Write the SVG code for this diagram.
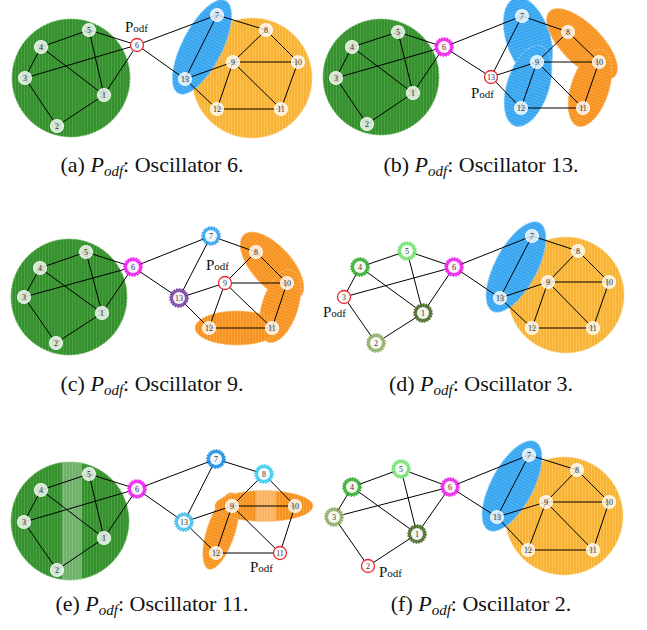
<svg xmlns="http://www.w3.org/2000/svg" width="647" height="630" viewBox="0 0 647 630">
<defs>
<style>
.bg{fill:#fff}
.edges line{stroke:#000;stroke-width:1}
.nd circle.b{fill:#fff;fill-opacity:.78;stroke:#fff;stroke-opacity:.85;stroke-width:1.1}
.nd circle.od{fill:#fff;stroke:#e8282f;stroke-width:1.3}
.nd circle.in{fill:#fff;fill-opacity:.92;stroke:none}
.nd circle.ring{stroke-width:1.6;stroke-dasharray:1.6 1.2;fill-opacity:.9}
.nd text{font-family:"Liberation Serif","DejaVu Serif",serif;font-size:8px;fill:#333;text-anchor:middle}
.podf{font-family:"Liberation Serif","DejaVu Serif",serif;font-size:15px;fill:#111}
.cap{font-family:"Liberation Serif","DejaVu Serif",serif;font-size:22px;fill:#111;text-anchor:middle}
.reg{stroke-width:1;stroke-dasharray:2 1.5}
.gr{fill:url(#pG);stroke:#6cbb62}
.yo{fill:url(#pY);stroke:#fdd689}
.do{fill:url(#pO);stroke:#fbbb70}
.bl{fill:url(#pB);stroke:#8fd0f8}
.mag{fill:#f022f0;stroke:#f022f0}
.blu{fill:#36a3ef;stroke:#36a3ef}
.blu2{fill:#1e8fe6;stroke:#1e8fe6}
.pur{fill:#7a45a6;stroke:#7a45a6}
.g1{fill:#38ad34;stroke:#38ad34}
.g2{fill:#77e372;stroke:#77e372}
.o1{fill:#4d6c2b;stroke:#4d6c2b}
.o2{fill:#90ad67;stroke:#90ad67}
.cy{fill:#3ccdf0;stroke:#3ccdf0}
.cy2{fill:#4cbde6;stroke:#4cbde6}
</style>
<pattern id="pG" width="3" height="10" patternUnits="userSpaceOnUse"><rect width="3" height="10" fill="#348f2c"/><rect width="0.8" height="10" fill="#4fa648"/></pattern>
<pattern id="pY" width="3" height="10" patternUnits="userSpaceOnUse"><rect width="3" height="10" fill="#f8b234"/><rect width="0.8" height="10" fill="#fbc55e"/></pattern>
<pattern id="pO" width="3" height="10" patternUnits="userSpaceOnUse"><rect width="3" height="10" fill="#f7931e"/><rect width="0.8" height="10" fill="#f9a84c"/></pattern>
<pattern id="pB" width="3" height="10" patternUnits="userSpaceOnUse"><rect width="3" height="10" fill="#37a5f0"/><rect width="0.8" height="10" fill="#5cb8f5"/></pattern>
<clipPath id="clipE"><circle cx="70" cy="521" r="59"/></clipPath>
<clipPath id="clipEo"><ellipse cx="264" cy="506" rx="49" ry="15.5"/></clipPath>
</defs>
<rect class="bg" width="647" height="630"/>

<!-- Panel (a) -->
<g id="panel-a">
<g id="a-regions">
<circle class="reg gr" cx="71" cy="78" r="59"/>
<circle class="reg yo" cx="252" cy="78" r="60"/>
<ellipse class="reg bl" cx="202" cy="47" rx="52" ry="20" transform="rotate(-63 202 47)"/>
</g>
<g id="a-connectors" class="edges">
<line x1="104" y1="95" x2="57" y2="126"/><line x1="104" y1="95" x2="41" y2="47"/><line x1="104" y1="95" x2="89" y2="30"/><line x1="104" y1="95" x2="137" y2="45"/>
<line x1="57" y1="126" x2="25" y2="78"/><line x1="25" y1="78" x2="41" y2="47"/><line x1="25" y1="78" x2="137" y2="45"/><line x1="41" y1="47" x2="89" y2="30"/>
<line x1="89" y1="30" x2="137" y2="45"/><line x1="137" y1="45" x2="217" y2="15"/><line x1="137" y1="45" x2="185" y2="79"/><line x1="217" y1="15" x2="266" y2="30"/>
<line x1="217" y1="15" x2="185" y2="79"/><line x1="266" y1="30" x2="233" y2="62"/><line x1="266" y1="30" x2="298" y2="62"/><line x1="233" y1="62" x2="298" y2="62"/>
<line x1="233" y1="62" x2="281" y2="109"/><line x1="233" y1="62" x2="217" y2="109"/><line x1="233" y1="62" x2="185" y2="79"/><line x1="298" y1="62" x2="281" y2="109"/>
<line x1="281" y1="109" x2="217" y2="109"/><line x1="217" y1="109" x2="185" y2="79"/>
</g>
<g id="a1" class="nd"><circle class="b" cx="104" cy="95" r="6.5"/><text x="104" y="97.8">1</text></g>
<g id="a2" class="nd"><circle class="b" cx="57" cy="126" r="6.5"/><text x="57" y="128.8">2</text></g>
<g id="a3" class="nd"><circle class="b" cx="25" cy="78" r="6.5"/><text x="25" y="80.8">3</text></g>
<g id="a4" class="nd"><circle class="b" cx="41" cy="47" r="6.5"/><text x="41" y="49.8">4</text></g>
<g id="a5" class="nd"><circle class="b" cx="89" cy="30" r="6.5"/><text x="89" y="32.8">5</text></g>
<g id="a6" class="nd"><circle class="od" cx="137" cy="45" r="6.5"/><text x="137" y="47.8">6</text></g>
<g id="a7" class="nd"><circle class="b" cx="217" cy="15" r="6.5"/><text x="217" y="17.8">7</text></g>
<g id="a8" class="nd"><circle class="b" cx="266" cy="30" r="6.5"/><text x="266" y="32.8">8</text></g>
<g id="a9" class="nd"><circle class="b" cx="233" cy="62" r="6.5"/><text x="233" y="64.8">9</text></g>
<g id="a10" class="nd"><circle class="b" cx="298" cy="62" r="6.5"/><text x="298" y="64.8">10</text></g>
<g id="a11" class="nd"><circle class="b" cx="281" cy="109" r="6.5"/><text x="281" y="111.8">11</text></g>
<g id="a12" class="nd"><circle class="b" cx="217" cy="109" r="6.5"/><text x="217" y="111.8">12</text></g>
<g id="a13" class="nd"><circle class="b" cx="185" cy="79" r="6.5"/><text x="185" y="81.8">13</text></g>
<text class="podf" x="125" y="32">P<tspan font-size="11">odf</tspan></text>
<text class="cap" x="152" y="172">(a) <tspan font-style="italic">P</tspan><tspan font-style="italic" font-size="15" dy="4">odf</tspan><tspan dy="-4">: Oscillator 6.</tspan></text>
</g>

<!-- Panel (b) -->
<g id="panel-b">
<g id="b-regions">
<circle class="reg gr" cx="381" cy="77" r="58"/>
<ellipse class="reg bl" cx="528" cy="38" rx="42" ry="22" transform="rotate(72 528 38)"/>
<ellipse class="reg bl" cx="528" cy="86" rx="42" ry="21" transform="rotate(108 528 86)"/>
<ellipse class="reg do" cx="582" cy="44" rx="46" ry="20" transform="rotate(45 582 44)"/>
<ellipse class="reg do" cx="590" cy="88" rx="40" ry="19" transform="rotate(108 590 88)"/>
</g>
<g id="b-connectors" class="edges">
<line x1="413" y1="93" x2="367" y2="124"/><line x1="413" y1="93" x2="352" y2="47"/><line x1="413" y1="93" x2="398" y2="32"/><line x1="413" y1="93" x2="444" y2="47"/>
<line x1="367" y1="124" x2="336" y2="78"/><line x1="336" y1="78" x2="352" y2="47"/><line x1="336" y1="78" x2="444" y2="47"/><line x1="352" y1="47" x2="398" y2="32"/>
<line x1="398" y1="32" x2="444" y2="47"/><line x1="444" y1="47" x2="522" y2="16"/><line x1="444" y1="47" x2="491" y2="77"/><line x1="522" y1="16" x2="568" y2="32"/>
<line x1="522" y1="16" x2="491" y2="77"/><line x1="568" y1="32" x2="537" y2="62"/><line x1="568" y1="32" x2="599" y2="62"/><line x1="537" y1="62" x2="599" y2="62"/>
<line x1="537" y1="62" x2="583" y2="108"/><line x1="537" y1="62" x2="521" y2="108"/><line x1="537" y1="62" x2="491" y2="77"/><line x1="599" y1="62" x2="583" y2="108"/>
<line x1="583" y1="108" x2="521" y2="108"/><line x1="521" y1="108" x2="491" y2="77"/>
</g>
<g id="b1" class="nd"><circle class="b" cx="413" cy="93" r="6.5"/><text x="413" y="95.8">1</text></g>
<g id="b2" class="nd"><circle class="b" cx="367" cy="124" r="6.5"/><text x="367" y="126.8">2</text></g>
<g id="b3" class="nd"><circle class="b" cx="336" cy="78" r="6.5"/><text x="336" y="80.8">3</text></g>
<g id="b4" class="nd"><circle class="b" cx="352" cy="47" r="6.5"/><text x="352" y="49.8">4</text></g>
<g id="b5" class="nd"><circle class="b" cx="398" cy="32" r="6.5"/><text x="398" y="34.8">5</text></g>
<g id="b6" class="nd"><circle class="ring mag" cx="444" cy="47" r="9"/><circle class="in" cx="444" cy="47" r="6"/><text x="444" y="49.8">6</text></g>
<g id="b7" class="nd"><circle class="b" cx="522" cy="16" r="6.5"/><text x="522" y="18.8">7</text></g>
<g id="b8" class="nd"><circle class="b" cx="568" cy="32" r="6.5"/><text x="568" y="34.8">8</text></g>
<g id="b9" class="nd"><circle class="b" cx="537" cy="62" r="6.5"/><text x="537" y="64.8">9</text></g>
<g id="b10" class="nd"><circle class="b" cx="599" cy="62" r="6.5"/><text x="599" y="64.8">10</text></g>
<g id="b11" class="nd"><circle class="b" cx="583" cy="108" r="6.5"/><text x="583" y="110.8">11</text></g>
<g id="b12" class="nd"><circle class="b" cx="521" cy="108" r="6.5"/><text x="521" y="110.8">12</text></g>
<g id="b13" class="nd"><circle class="od" cx="491" cy="77" r="6.5"/><text x="491" y="79.8">13</text></g>
<text class="podf" x="471" y="98">P<tspan font-size="11">odf</tspan></text>
<text class="cap" x="481" y="172">(b) <tspan font-style="italic">P</tspan><tspan font-style="italic" font-size="15" dy="4">odf</tspan><tspan dy="-4">: Oscillator 13.</tspan></text>
</g>

<!-- Panel (c) -->
<g id="panel-c">
<g id="c-regions">
<circle class="reg gr" cx="69" cy="297" r="58"/>
<ellipse class="reg do" cx="272" cy="266" rx="42" ry="20" transform="rotate(48 272 266)"/>
<ellipse class="reg do" cx="280" cy="306" rx="38" ry="18" transform="rotate(108 280 306)"/>
<ellipse class="reg do" cx="237" cy="328" rx="42" ry="17"/>
</g>
<g id="c-connectors" class="edges">
<line x1="102" y1="313" x2="56" y2="343"/><line x1="102" y1="313" x2="40" y2="268"/><line x1="102" y1="313" x2="86" y2="252"/><line x1="102" y1="313" x2="133" y2="267"/>
<line x1="56" y1="343" x2="24" y2="297"/><line x1="24" y1="297" x2="40" y2="268"/><line x1="24" y1="297" x2="133" y2="267"/><line x1="40" y1="268" x2="86" y2="252"/>
<line x1="86" y1="252" x2="133" y2="267"/><line x1="133" y1="267" x2="211" y2="236"/><line x1="133" y1="267" x2="179" y2="298"/><line x1="211" y1="236" x2="256" y2="252"/>
<line x1="211" y1="236" x2="179" y2="298"/><line x1="256" y1="252" x2="225" y2="283"/><line x1="256" y1="252" x2="287" y2="283"/><line x1="225" y1="283" x2="287" y2="283"/>
<line x1="225" y1="283" x2="272" y2="328"/><line x1="225" y1="283" x2="209" y2="328"/><line x1="225" y1="283" x2="179" y2="298"/><line x1="287" y1="283" x2="272" y2="328"/>
<line x1="272" y1="328" x2="209" y2="328"/><line x1="209" y1="328" x2="179" y2="298"/>
</g>
<g id="c1" class="nd"><circle class="b" cx="102" cy="313" r="6.5"/><text x="102" y="315.8">1</text></g>
<g id="c2" class="nd"><circle class="b" cx="56" cy="343" r="6.5"/><text x="56" y="345.8">2</text></g>
<g id="c3" class="nd"><circle class="b" cx="24" cy="297" r="6.5"/><text x="24" y="299.8">3</text></g>
<g id="c4" class="nd"><circle class="b" cx="40" cy="268" r="6.5"/><text x="40" y="270.8">4</text></g>
<g id="c5" class="nd"><circle class="b" cx="86" cy="252" r="6.5"/><text x="86" y="254.8">5</text></g>
<g id="c6" class="nd"><circle class="ring mag" cx="133" cy="267" r="9"/><circle class="in" cx="133" cy="267" r="6"/><text x="133" y="269.8">6</text></g>
<g id="c7" class="nd"><circle class="ring blu" cx="211" cy="236" r="9"/><circle class="in" cx="211" cy="236" r="6"/><text x="211" y="238.8">7</text></g>
<g id="c8" class="nd"><circle class="b" cx="256" cy="252" r="6.5"/><text x="256" y="254.8">8</text></g>
<g id="c9" class="nd"><circle class="od" cx="225" cy="283" r="6.5"/><text x="225" y="285.8">9</text></g>
<g id="c10" class="nd"><circle class="b" cx="287" cy="283" r="6.5"/><text x="287" y="285.8">10</text></g>
<g id="c11" class="nd"><circle class="b" cx="272" cy="328" r="6.5"/><text x="272" y="330.8">11</text></g>
<g id="c12" class="nd"><circle class="b" cx="209" cy="328" r="6.5"/><text x="209" y="330.8">12</text></g>
<g id="c13" class="nd"><circle class="ring pur" cx="179" cy="298" r="9"/><circle class="in" cx="179" cy="298" r="6"/><text x="179" y="300.8">13</text></g>
<text class="podf" x="206" y="270">P<tspan font-size="11">odf</tspan></text>
<text class="cap" x="152" y="391">(c) <tspan font-style="italic">P</tspan><tspan font-style="italic" font-size="15" dy="4">odf</tspan><tspan dy="-4">: Oscillator 9.</tspan></text>
</g>

<!-- Panel (d) -->
<g id="panel-d">
<g id="d-regions">
<circle class="reg yo" cx="566" cy="295" r="58"/>
<ellipse class="reg bl" cx="516" cy="267" rx="50" ry="21" transform="rotate(-62 516 267)"/>
</g>
<g id="d-connectors" class="edges">
<line x1="423" y1="313" x2="376" y2="343"/><line x1="423" y1="313" x2="360" y2="267"/><line x1="423" y1="313" x2="407" y2="251"/><line x1="423" y1="313" x2="454" y2="267"/>
<line x1="376" y1="343" x2="344" y2="297"/><line x1="344" y1="297" x2="360" y2="267"/><line x1="344" y1="297" x2="454" y2="267"/><line x1="360" y1="267" x2="407" y2="251"/>
<line x1="407" y1="251" x2="454" y2="267"/><line x1="454" y1="267" x2="532" y2="236"/><line x1="454" y1="267" x2="500" y2="298"/><line x1="532" y1="236" x2="578" y2="251"/>
<line x1="532" y1="236" x2="500" y2="298"/><line x1="578" y1="251" x2="548" y2="282"/><line x1="578" y1="251" x2="609" y2="282"/><line x1="548" y1="282" x2="609" y2="282"/>
<line x1="548" y1="282" x2="593" y2="328"/><line x1="548" y1="282" x2="532" y2="328"/><line x1="548" y1="282" x2="500" y2="298"/><line x1="609" y1="282" x2="593" y2="328"/>
<line x1="593" y1="328" x2="532" y2="328"/><line x1="532" y1="328" x2="500" y2="298"/>
</g>
<g id="d1" class="nd"><circle class="ring o1" cx="423" cy="313" r="9"/><circle class="in" cx="423" cy="313" r="6"/><text x="423" y="315.8">1</text></g>
<g id="d2" class="nd"><circle class="ring o2" cx="376" cy="343" r="9"/><circle class="in" cx="376" cy="343" r="6"/><text x="376" y="345.8">2</text></g>
<g id="d3" class="nd"><circle class="od" cx="344" cy="297" r="6.5"/><text x="344" y="299.8">3</text></g>
<g id="d4" class="nd"><circle class="ring g1" cx="360" cy="267" r="9"/><circle class="in" cx="360" cy="267" r="6"/><text x="360" y="269.8">4</text></g>
<g id="d5" class="nd"><circle class="ring g2" cx="407" cy="251" r="9"/><circle class="in" cx="407" cy="251" r="6"/><text x="407" y="253.8">5</text></g>
<g id="d6" class="nd"><circle class="ring mag" cx="454" cy="267" r="9"/><circle class="in" cx="454" cy="267" r="6"/><text x="454" y="269.8">6</text></g>
<g id="d7" class="nd"><circle class="b" cx="532" cy="236" r="6.5"/><text x="532" y="238.8">7</text></g>
<g id="d8" class="nd"><circle class="b" cx="578" cy="251" r="6.5"/><text x="578" y="253.8">8</text></g>
<g id="d9" class="nd"><circle class="b" cx="548" cy="282" r="6.5"/><text x="548" y="284.8">9</text></g>
<g id="d10" class="nd"><circle class="b" cx="609" cy="282" r="6.5"/><text x="609" y="284.8">10</text></g>
<g id="d11" class="nd"><circle class="b" cx="593" cy="328" r="6.5"/><text x="593" y="330.8">11</text></g>
<g id="d12" class="nd"><circle class="b" cx="532" cy="328" r="6.5"/><text x="532" y="330.8">12</text></g>
<g id="d13" class="nd"><circle class="b" cx="500" cy="298" r="6.5"/><text x="500" y="300.8">13</text></g>
<text class="podf" x="323" y="317">P<tspan font-size="11">odf</tspan></text>
<text class="cap" x="481" y="391">(d) <tspan font-style="italic">P</tspan><tspan font-style="italic" font-size="15" dy="4">odf</tspan><tspan dy="-4">: Oscillator 3.</tspan></text>
</g>

<!-- Panel (e) -->
<g id="panel-e">
<g id="e-regions">
<circle class="reg gr" cx="70" cy="521" r="59"/>
<rect x="62" y="460" width="20" height="122" fill="#fff" fill-opacity="0.3" clip-path="url(#clipE)"/>
<ellipse class="reg do" cx="221" cy="531" rx="40" ry="14" transform="rotate(108 221 531)"/>
<ellipse class="reg do" cx="264" cy="506" rx="49" ry="15.5"/>
<rect x="256" y="489" width="20" height="34" fill="#fff" fill-opacity="0.3" clip-path="url(#clipEo)"/>
</g>
<g id="e-connectors" class="edges">
<line x1="104" y1="538" x2="57" y2="570"/><line x1="104" y1="538" x2="41" y2="490"/><line x1="104" y1="538" x2="89" y2="474"/><line x1="104" y1="538" x2="137" y2="489"/>
<line x1="57" y1="570" x2="24" y2="522"/><line x1="24" y1="522" x2="41" y2="490"/><line x1="24" y1="522" x2="137" y2="489"/><line x1="41" y1="490" x2="89" y2="474"/>
<line x1="89" y1="474" x2="137" y2="489"/><line x1="137" y1="489" x2="216" y2="459"/><line x1="137" y1="489" x2="184" y2="522"/><line x1="216" y1="459" x2="264" y2="474"/>
<line x1="216" y1="459" x2="184" y2="522"/><line x1="264" y1="474" x2="232" y2="506"/><line x1="264" y1="474" x2="295" y2="506"/><line x1="232" y1="506" x2="295" y2="506"/>
<line x1="232" y1="506" x2="280" y2="553"/><line x1="232" y1="506" x2="216" y2="553"/><line x1="232" y1="506" x2="184" y2="522"/><line x1="295" y1="506" x2="280" y2="553"/>
<line x1="280" y1="553" x2="216" y2="553"/><line x1="216" y1="553" x2="184" y2="522"/>
</g>
<g id="e1" class="nd"><circle class="b" cx="104" cy="538" r="6.5"/><text x="104" y="540.8">1</text></g>
<g id="e2" class="nd"><circle class="b" cx="57" cy="570" r="6.5"/><text x="57" y="572.8">2</text></g>
<g id="e3" class="nd"><circle class="b" cx="24" cy="522" r="6.5"/><text x="24" y="524.8">3</text></g>
<g id="e4" class="nd"><circle class="b" cx="41" cy="490" r="6.5"/><text x="41" y="492.8">4</text></g>
<g id="e5" class="nd"><circle class="b" cx="89" cy="474" r="6.5"/><text x="89" y="476.8">5</text></g>
<g id="e6" class="nd"><circle class="ring mag" cx="137" cy="489" r="9"/><circle class="in" cx="137" cy="489" r="6"/><text x="137" y="491.8">6</text></g>
<g id="e7" class="nd"><circle class="ring blu2" cx="216" cy="459" r="9"/><circle class="in" cx="216" cy="459" r="6"/><text x="216" y="461.8">7</text></g>
<g id="e8" class="nd"><circle class="ring cy" cx="264" cy="474" r="9"/><circle class="in" cx="264" cy="474" r="6"/><text x="264" y="476.8">8</text></g>
<g id="e9" class="nd"><circle class="b" cx="232" cy="506" r="6.5"/><text x="232" y="508.8">9</text></g>
<g id="e10" class="nd"><circle class="b" cx="295" cy="506" r="6.5"/><text x="295" y="508.8">10</text></g>
<g id="e11" class="nd"><circle class="od" cx="280" cy="553" r="6.5"/><text x="280" y="555.8">11</text></g>
<g id="e12" class="nd"><circle class="b" cx="216" cy="553" r="6.5"/><text x="216" y="555.8">12</text></g>
<g id="e13" class="nd"><circle class="ring cy2" cx="184" cy="522" r="9"/><circle class="in" cx="184" cy="522" r="6"/><text x="184" y="524.8">13</text></g>
<text class="podf" x="250" y="572">P<tspan font-size="11">odf</tspan></text>
<text class="cap" x="152" y="611">(e) <tspan font-style="italic">P</tspan><tspan font-style="italic" font-size="15" dy="4">odf</tspan><tspan dy="-4">: Oscillator 11.</tspan></text>
</g>

<!-- Panel (f) -->
<g id="panel-f">
<g id="f-regions">
<circle class="reg yo" cx="564" cy="516" r="59"/>
<ellipse class="reg bl" cx="512" cy="486" rx="50" ry="21" transform="rotate(-62 512 486)"/>
</g>
<g id="f-connectors" class="edges">
<line x1="417" y1="534" x2="368" y2="566"/><line x1="417" y1="534" x2="352" y2="487"/><line x1="417" y1="534" x2="401" y2="469"/><line x1="417" y1="534" x2="450" y2="487"/>
<line x1="368" y1="566" x2="334" y2="517"/><line x1="334" y1="517" x2="352" y2="487"/><line x1="334" y1="517" x2="450" y2="487"/><line x1="352" y1="487" x2="401" y2="469"/>
<line x1="401" y1="469" x2="450" y2="487"/><line x1="450" y1="487" x2="529" y2="455"/><line x1="450" y1="487" x2="497" y2="517"/><line x1="529" y1="455" x2="577" y2="470"/>
<line x1="529" y1="455" x2="497" y2="517"/><line x1="577" y1="470" x2="546" y2="502"/><line x1="577" y1="470" x2="609" y2="502"/><line x1="546" y1="502" x2="609" y2="502"/>
<line x1="546" y1="502" x2="593" y2="550"/><line x1="546" y1="502" x2="528" y2="550"/><line x1="546" y1="502" x2="497" y2="517"/><line x1="609" y1="502" x2="593" y2="550"/>
<line x1="593" y1="550" x2="528" y2="550"/><line x1="528" y1="550" x2="497" y2="517"/>
</g>
<g id="f1" class="nd"><circle class="ring o1" cx="417" cy="534" r="9"/><circle class="in" cx="417" cy="534" r="6"/><text x="417" y="536.8">1</text></g>
<g id="f2" class="nd"><circle class="od" cx="368" cy="566" r="6.5"/><text x="368" y="568.8">2</text></g>
<g id="f3" class="nd"><circle class="ring o2" cx="334" cy="517" r="9"/><circle class="in" cx="334" cy="517" r="6"/><text x="334" y="519.8">3</text></g>
<g id="f4" class="nd"><circle class="ring g1" cx="352" cy="487" r="9"/><circle class="in" cx="352" cy="487" r="6"/><text x="352" y="489.8">4</text></g>
<g id="f5" class="nd"><circle class="ring g2" cx="401" cy="469" r="9"/><circle class="in" cx="401" cy="469" r="6"/><text x="401" y="471.8">5</text></g>
<g id="f6" class="nd"><circle class="ring mag" cx="450" cy="487" r="9"/><circle class="in" cx="450" cy="487" r="6"/><text x="450" y="489.8">6</text></g>
<g id="f7" class="nd"><circle class="b" cx="529" cy="455" r="6.5"/><text x="529" y="457.8">7</text></g>
<g id="f8" class="nd"><circle class="b" cx="577" cy="470" r="6.5"/><text x="577" y="472.8">8</text></g>
<g id="f9" class="nd"><circle class="b" cx="546" cy="502" r="6.5"/><text x="546" y="504.8">9</text></g>
<g id="f10" class="nd"><circle class="b" cx="609" cy="502" r="6.5"/><text x="609" y="504.8">10</text></g>
<g id="f11" class="nd"><circle class="b" cx="593" cy="550" r="6.5"/><text x="593" y="552.8">11</text></g>
<g id="f12" class="nd"><circle class="b" cx="528" cy="550" r="6.5"/><text x="528" y="552.8">12</text></g>
<g id="f13" class="nd"><circle class="b" cx="497" cy="517" r="6.5"/><text x="497" y="519.8">13</text></g>
<text class="podf" x="379" y="577">P<tspan font-size="11">odf</tspan></text>
<text class="cap" x="481" y="611">(f) <tspan font-style="italic">P</tspan><tspan font-style="italic" font-size="15" dy="4">odf</tspan><tspan dy="-4">: Oscillator 2.</tspan></text>
</g>
</svg>
